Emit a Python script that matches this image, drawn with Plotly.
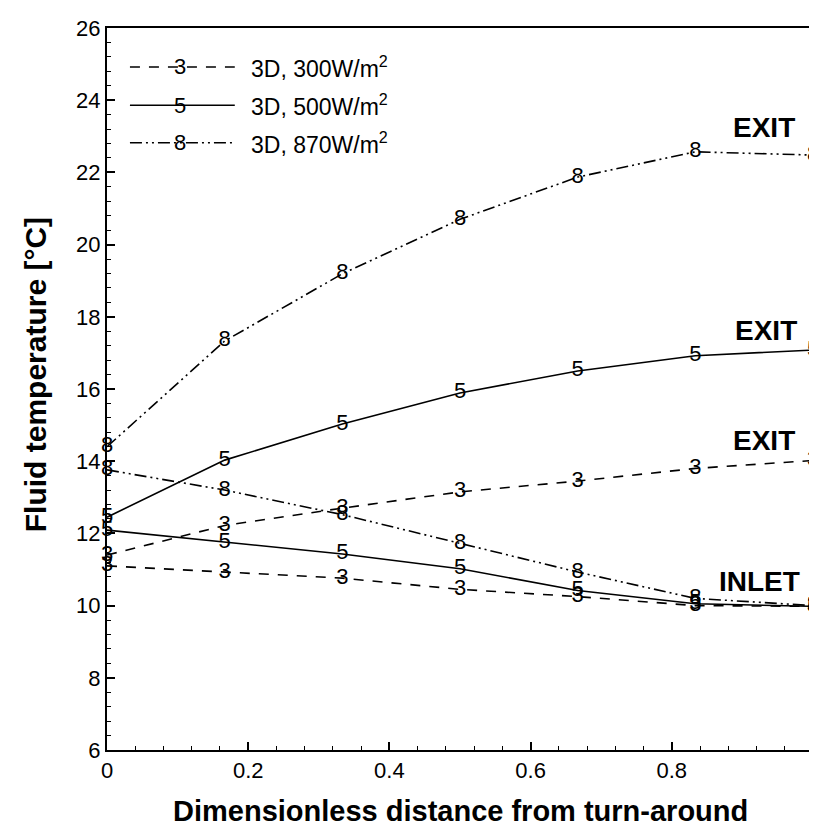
import plotly.graph_objects as go

# ---- data ----
x = [0.0, 0.1667, 0.3333, 0.5, 0.6667, 0.8333, 1.0]

exit_300 = [11.40, 12.22, 12.70, 13.15, 13.45, 13.80, 14.02]
inlet_300 = [11.10, 10.93, 10.76, 10.45, 10.25, 10.00, 9.98]

exit_500 = [12.45, 14.03, 15.03, 15.89, 16.50, 16.92, 17.08]
inlet_500 = [12.09, 11.76, 11.43, 11.02, 10.42, 10.05, 9.98]

exit_870 = [14.40, 17.33, 19.19, 20.70, 21.87, 22.57, 22.48]
inlet_870 = [13.76, 13.20, 12.52, 11.73, 10.93, 10.20, 10.00]

series_labels = ["3D, 300W/m<sup>2</sup>", "3D, 500W/m<sup>2</sup>", "3D, 870W/m<sup>2</sup>"]
series_marks = ["3", "5", "8"]

y_ticks = [6, 8, 10, 12, 14, 16, 18, 20, 22, 24, 26]
x_ticks = [0, 0.2, 0.4, 0.6, 0.8, 1.0]
x_tick_text = ["0", "0.2", "0.4", "0.6", "0.8", "1"]

region_labels = ["EXIT", "EXIT", "EXIT", "INLET"]
region_x = [0.931, 0.933, 0.931, 0.924]
region_y = [23.24, 17.61, 14.56, 10.68]

FONT = "Liberation Sans, Arial, sans-serif"
DASH_300 = "10px,9px"
DASH_500 = "solid"
DASH_870 = "12px,4px,2px,4px,2px,4px"
dashes = [DASH_300, DASH_500, DASH_870]

fig = go.Figure()

groups = [
    (exit_300, inlet_300),
    (exit_500, inlet_500),
    (exit_870, inlet_870),
]
for (ex, inl), mark, dash in zip(groups, series_marks, dashes):
    for ys in (ex, inl):
        fig.add_trace(go.Scatter(
            x=x, y=ys, mode="lines+text",
            text=[mark] * len(x), textposition="middle center",
            textfont=dict(family=FONT, size=22, color="black"),
            line=dict(color="black", width=1.6, dash=dash),
            showlegend=False, cliponaxis=False, hoverinfo="skip",
        ))

# region labels
for t, xx, yy in zip(region_labels, region_x, region_y):
    fig.add_annotation(x=xx, y=yy, xref="x", yref="y", text="<b>%s</b>" % t,
                       showarrow=False, font=dict(family=FONT, size=28, color="black"),
                       xanchor="center", yanchor="middle")

# custom legend (paper coordinates)
leg_rows = [0.946, 0.893, 0.841]
for yy, lab, mark, dash in zip(leg_rows, series_labels, series_marks, dashes):
    fig.add_shape(type="line", xref="paper", yref="paper",
                  x0=0.0325, x1=0.181, y0=yy, y1=yy,
                  line=dict(color="black", width=1.6, dash=dash))
    fig.add_annotation(xref="paper", yref="paper", x=0.103, y=yy, text=mark,
                       showarrow=False, font=dict(family=FONT, size=22, color="black"),
                       xanchor="center", yanchor="middle")
    fig.add_annotation(xref="paper", yref="paper", x=0.201, y=yy, text=lab,
                       showarrow=False, font=dict(family=FONT, size=23, color="black"),
                       xanchor="left", yanchor="middle")

# axis titles as annotations for precise placement
fig.add_annotation(xref="paper", yref="paper", x=0.5, y=-0.085,
                   text="<b>Dimensionless distance from turn-around</b>",
                   showarrow=False, font=dict(family=FONT, size=29, color="black"),
                   xanchor="center", yanchor="middle")
fig.add_annotation(xref="paper", yref="paper", x=-0.101, y=0.52,
                   text="<b>Fluid temperature [°C]</b>", textangle=-90,
                   showarrow=False, font=dict(family=FONT, size=30, color="black"),
                   xanchor="center", yanchor="middle")

axis_common = dict(showgrid=False, zeroline=False, showline=True, linecolor="black",
                   linewidth=2, mirror=True, ticks="inside", tickcolor="black",
                   tickwidth=1.5, ticklen=8,
                   tickfont=dict(family=FONT, size=22, color="black"))

fig.update_xaxes(range=[0, 1], tickvals=x_ticks, ticktext=x_tick_text,
                 minor=dict(dtick=0.04, ticks="inside", ticklen=4, tickcolor="black", tickwidth=1),
                 **axis_common)
fig.update_yaxes(range=[6, 26], tickvals=y_ticks,
                 minor=dict(dtick=0.4, ticks="inside", ticklen=4, tickcolor="black", tickwidth=1),
                 **axis_common)

# page body has an 8px margin: size the figure so it fits without scrollbars
fig.update_layout(width=809, height=821,
                  margin=dict(l=99, r=2, t=20, b=79),
                  paper_bgcolor="white", plot_bgcolor="white",
                  showlegend=False)

fig.write_html("out.html")
